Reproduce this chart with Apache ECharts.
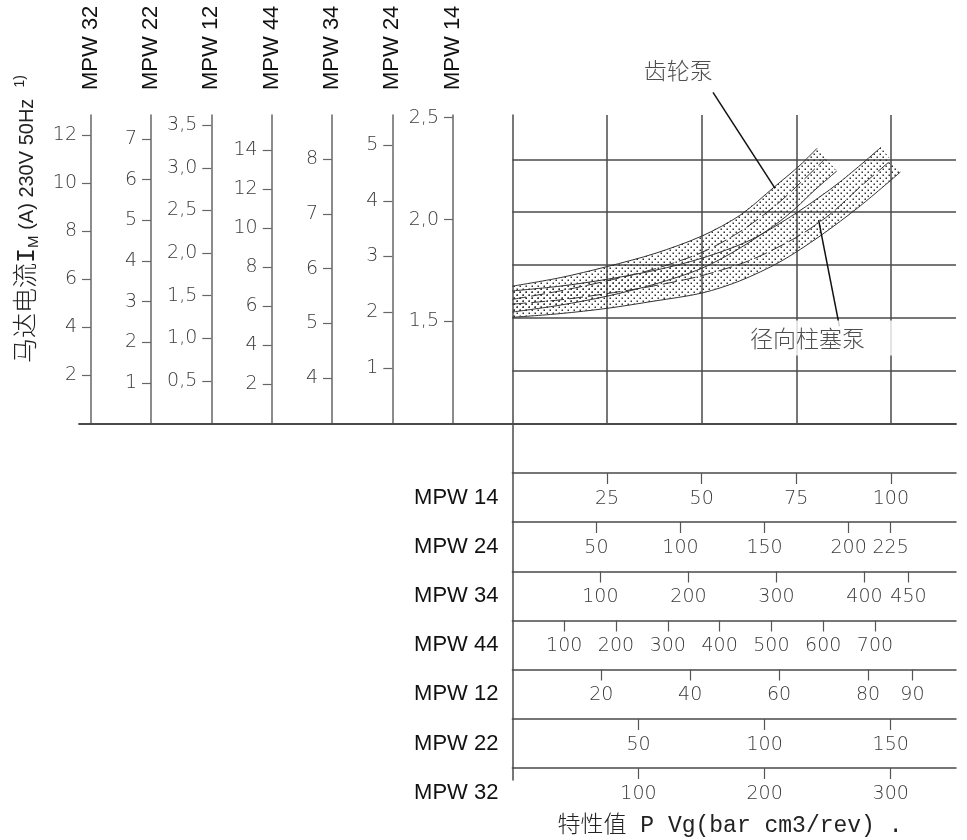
<!DOCTYPE html>
<html><head><meta charset="utf-8">
<script src="https://cdn.jsdelivr.net/npm/echarts@6/dist/echarts.min.js"></script>
<style>html,body{margin:0;padding:0;background:#fff}#c{width:967px;height:840px}</style>
</head><body><div id="c"></div>
<script>
// ---------------- data ----------------
// vertical current scales (upper left), left to right
const leftScaleNames = ['MPW 32', 'MPW 22', 'MPW 12', 'MPW 44', 'MPW 34', 'MPW 24', 'MPW 14'];
const leftScaleMin = [0, 0, 0, 0, 3.171, 0, 1.0];
const leftScaleMax = [12.83, 7.59, 3.62, 15.79, 8.81, 5.54, 2.513];
const mpw32CurrentTicks = [2, 4, 6, 8, 10, 12];
const mpw22CurrentTicks = [1, 2, 3, 4, 5, 6, 7];
const mpw12CurrentTicks = [0.5, 1.0, 1.5, 2.0, 2.5, 3.0, 3.5];
const mpw44CurrentTicks = [2, 4, 6, 8, 10, 12, 14];
const mpw34CurrentTicks = [4, 5, 6, 7, 8];
const mpw24CurrentTicks = [1, 2, 3, 4, 5];
const mpw14CurrentTicks = [1.5, 2.0, 2.5];
const leftDecimals = [0, 0, 1, 0, 0, 0, 1];

// horizontal P*Vg scales (lower part), top to bottom
const rowNames = ['MPW 14', 'MPW 24', 'MPW 34', 'MPW 44', 'MPW 12', 'MPW 22', 'MPW 32'];
const rowMax = [117.2, 263.9, 504, 856.4, 99.8, 175.9, 351.8];
const mpw14PvTicks = [25, 50, 75, 100];
const mpw24PvTicks = [50, 100, 150, 200, 225];
const mpw34PvTicks = [100, 200, 300, 400, 450];
const mpw44PvTicks = [100, 200, 300, 400, 500, 600, 700];
const mpw12PvTicks = [20, 40, 60, 80, 90];
const mpw22PvTicks = [50, 100, 150];
const mpw32PvTicks = [100, 200, 300];

// main diagram: x in MPW 14 units (P Vg), y in grid rows
const mainXMax = 117.2;
const mainYMax = 5.84;
const gearUpper = [[0, 2.60], [12.6, 2.76], [25, 2.97], [37.7, 3.22], [50.1, 3.55], [60.1, 3.94], [69.4, 4.49], [76, 4.89], [80.5, 5.21]];
const gearCenter = [[0, 2.35], [12.6, 2.51], [25, 2.70], [37.7, 2.93], [50.1, 3.24], [60.1, 3.63], [69.4, 4.12], [76, 4.55], [82.6, 5.01]];
const gearLower = [[0, 2.11], [12.6, 2.24], [25, 2.41], [37.7, 2.64], [50.1, 2.94], [60.1, 3.32], [69.4, 3.76], [74.9, 4.08], [79.9, 4.42], [85.7, 4.78]];
const radialUpper = [[0, 2.51], [12.6, 2.60], [25, 2.73], [37.7, 2.90], [50.1, 3.13], [62.8, 3.47], [74.9, 3.98], [86.5, 4.57], [97.4, 5.23]];
const radialCenter = [[0, 2.26], [12.6, 2.34], [25, 2.46], [37.7, 2.61], [50.1, 2.80], [62.8, 3.09], [74.9, 3.52], [83.9, 3.96], [91.9, 4.48], [99.8, 4.97]];
const radialLower = [[0, 2.01], [12.6, 2.08], [25, 2.18], [37.7, 2.32], [50.1, 2.47], [60.1, 2.70], [70.7, 3.06], [81.3, 3.55], [91.9, 4.12], [102.5, 4.76]];
const gearLeader = [[53.0, 6.27], [69.4, 4.45]];
const radialLeader = [[80.9, 3.85], [86.4, 1.84]];
const gearLabel = { name: '齿轮泵', value: [43.8, 6.69] };
const radialLabel = { name: '径向柱塞泵', value: [80.6, 1.62] };

const yTitle = ['马达电流I', 'M', ' (A) 230V 50Hz  ', '1)'];
const xTitle = '特性值 P Vg(bar cm3/rev) .';

// ---------------- chart ----------------
const leftTicks = [mpw32CurrentTicks, mpw22CurrentTicks, mpw12CurrentTicks, mpw44CurrentTicks, mpw34CurrentTicks, mpw24CurrentTicks, mpw14CurrentTicks];
const rowTicks = [mpw14PvTicks, mpw24PvTicks, mpw34PvTicks, mpw44PvTicks, mpw12PvTicks, mpw22PvTicks, mpw32PvTicks];

const dot = document.createElement('canvas');
dot.width = 6; dot.height = 6;
const dctx = dot.getContext('2d');
dctx.fillStyle = '#333';
dctx.fillRect(0.5, 0.5, 1.5, 1.5);
dctx.fillRect(3.5, 3.5, 1.5, 1.5);
const dotPattern = { image: dot, repeat: 'repeat' };

const LINE = '#4a4a4a';
const NUM_FONT = { fontFamily: 'DejaVu Sans', fontWeight: 200, fontSize: 19, color: '#3a3a3a' };
const NAME_FONT = { fontFamily: 'Liberation Sans', fontSize: 22, color: '#111' };
const CJK = '"Noto Sans CJK SC"';

const G_LEFT = 512.4, G_RIGHT = 11, G_TOP = 115, G_H = 308.5;
const leftOffsets = [421.4, 361.4, 301.1, 240.7, 180.4, 120.1, 59.4];
const rowTops = [473, 522, 571.5, 620.5, 669.5, 719, 768];

const grids = [
  { left: G_LEFT, right: G_RIGHT, top: G_TOP, height: G_H },
  { left: 79, right: G_RIGHT, top: G_TOP, height: G_H },
  { left: G_LEFT, right: G_RIGHT, top: G_TOP + G_H, height: 780 - G_TOP - G_H }
];
rowTops.forEach(t => grids.push({ left: G_LEFT, right: G_RIGHT, top: t, height: 49 }));
grids.forEach(g => { g.outerBoundsMode = 'none'; g.containLabel = false; });

const xAxes = [
  { gridIndex: 0, type: 'value', min: 0, max: mainXMax, interval: 25,
    axisLine: { show: false }, axisTick: { show: false }, axisLabel: { show: false },
    splitLine: { show: true, showMinLine: false, showMaxLine: false, lineStyle: { color: LINE, width: 1.5 } } },
  { gridIndex: 1, type: 'value', min: 0, max: 1, axisLine: { show: true, onZero: false, lineStyle: { color: LINE, width: 1.8 } },
    axisTick: { show: false }, axisLabel: { show: false }, splitLine: { show: false } },
  { gridIndex: 2, type: 'value', min: 0, max: 1, show: false }
];
const yAxes = [
  { gridIndex: 0, type: 'value', min: 0, max: mainYMax, interval: 1, position: 'left',
    axisLine: { show: true, onZero: false, lineStyle: { color: LINE, width: 1.5 } }, axisTick: { show: false }, axisLabel: { show: false },
    splitLine: { show: true, showMinLine: false, showMaxLine: false, lineStyle: { color: LINE, width: 1.5 } } }
];
leftScaleNames.forEach((n, i) => {
  yAxes.push({
    gridIndex: 0, type: 'value', position: 'left', offset: leftOffsets[i],
    min: leftScaleMin[i], max: leftScaleMax[i],
    name: n, nameLocation: 'end', nameGap: 25, nameRotate: 90, nameTextStyle: NAME_FONT,
    axisLine: { show: true, onZero: false, lineStyle: { color: '#666', width: 1.5 } },
    axisTick: { show: true, length: 9, customValues: leftTicks[i], lineStyle: { color: '#666', width: 1.2 } },
    axisLabel: Object.assign({ margin: 14, customValues: leftTicks[i],
      formatter: v => leftDecimals[i] ? Number(v).toFixed(1).replace('.', ',') : String(v) }, NUM_FONT),
    splitLine: { show: false }
  });
});
yAxes.push({ gridIndex: 1, type: 'value', min: 0, max: 1, show: false });
yAxes.push({ gridIndex: 2, type: 'value', min: 0, max: 1, position: 'left',
  axisLine: { show: true, onZero: false, lineStyle: { color: LINE, width: 1.5 } },
  axisTick: { show: false }, axisLabel: { show: false }, splitLine: { show: false } });

rowNames.forEach((n, i) => {
  xAxes.push({
    gridIndex: 3 + i, type: 'value', position: 'top', min: 0, max: rowMax[i],
    axisLine: { show: true, onZero: false, lineStyle: { color: LINE, width: 1.5 } },
    axisTick: { show: true, inside: true, length: 11, customValues: rowTicks[i], lineStyle: { color: '#555', width: 1.2 } },
    axisLabel: Object.assign({ inside: true, margin: 26, verticalAlign: 'middle', customValues: rowTicks[i] }, NUM_FONT),
    splitLine: { show: false }
  });
  yAxes.push({
    gridIndex: 3 + i, type: 'category', data: [n],
    axisLine: { show: false }, axisTick: { show: false },
    axisLabel: Object.assign({ margin: 14 }, NAME_FONT), splitLine: { show: false }
  });
});

function bandRender(upper, lower) {
  return function (params, api) {
    if (params.dataIndex !== 0) return null;
    const pts = upper.map(p => api.coord(p)).concat(lower.slice().reverse().map(p => api.coord(p)));
    return { type: 'polygon', shape: { points: pts }, style: { fill: dotPattern, stroke: null } };
  };
}
function curve(data, dashed) {
  return { type: 'line', xAxisIndex: 0, yAxisIndex: 0, data: data, symbol: 'none', smooth: 0.3, silent: true, z: 3,
    lineStyle: { color: '#333', width: 1, type: dashed ? [14, 5] : 'solid' } };
}

const series = [
  { type: 'custom', xAxisIndex: 0, yAxisIndex: 0, data: [[0, 0]], renderItem: bandRender(gearUpper, gearLower), silent: true, z: 2 },
  { type: 'custom', xAxisIndex: 0, yAxisIndex: 0, data: [[0, 0]], renderItem: bandRender(radialUpper, radialLower), silent: true, z: 2 },
  curve(gearUpper), curve(gearLower), curve(gearCenter, true),
  curve(radialUpper), curve(radialLower), curve(radialCenter, true),
  { type: 'line', xAxisIndex: 0, yAxisIndex: 0, data: gearLeader, symbol: 'none', clip: false, silent: true, z: 4,
    lineStyle: { color: '#111', width: 1.5 } },
  { type: 'line', xAxisIndex: 0, yAxisIndex: 0, data: radialLeader, symbol: 'none', clip: false, silent: true, z: 4,
    lineStyle: { color: '#111', width: 1.5 } },
  { type: 'scatter', xAxisIndex: 0, yAxisIndex: 0, symbolSize: 0, clip: false, silent: true, z: 5,
    data: [
      gearLabel,
      { name: radialLabel.name, value: radialLabel.value, label: { backgroundColor: '#fff', padding: [6, 28, 6, 8] } }
    ],
    label: { show: true, position: 'inside', formatter: p => p.name, fontFamily: CJK, fontWeight: 300, fontSize: 23, color: '#222' },
    emphasis: { disabled: true } }
];

const option = {
  animation: false,
  backgroundColor: '#fff',
  grid: grids,
  xAxis: xAxes,
  yAxis: yAxes,
  series: series,
  graphic: [
    { type: 'text', x: 27, y: 219, rotation: Math.PI / 2, silent: true,
      style: {
        text: '{cn|' + yTitle[0] + '}{sub|' + yTitle[1] + '}{lat|' + yTitle[2] + '}{sup|' + yTitle[3] + '}',
        align: 'center', verticalAlign: 'middle',
        rich: {
          cn: { fontFamily: '"Liberation Mono", ' + CJK, fontWeight: 300, fontSize: 25, fill: '#222', lineHeight: 28, verticalAlign: 'middle' },
          sub: { fontFamily: 'Liberation Sans', fontSize: 15, fill: '#222', verticalAlign: 'bottom', lineHeight: 28 },
          lat: { fontFamily: 'Liberation Sans', fontSize: 20, fill: '#222', lineHeight: 28, verticalAlign: 'middle' },
          sup: { fontFamily: 'Liberation Sans', fontSize: 14, fill: '#222', verticalAlign: 'top', lineHeight: 28 }
        }
      } },
    { type: 'text', x: 730, y: 826, silent: true,
      style: { text: xTitle, align: 'center', verticalAlign: 'middle',
        font: '300 23px "Liberation Mono", "Noto Sans CJK SC"', fill: '#222' } }
  ]
};

const chart = echarts.init(document.getElementById('c'), null, { renderer: 'canvas' });
chart.setOption(option);
</script>
</body></html>
